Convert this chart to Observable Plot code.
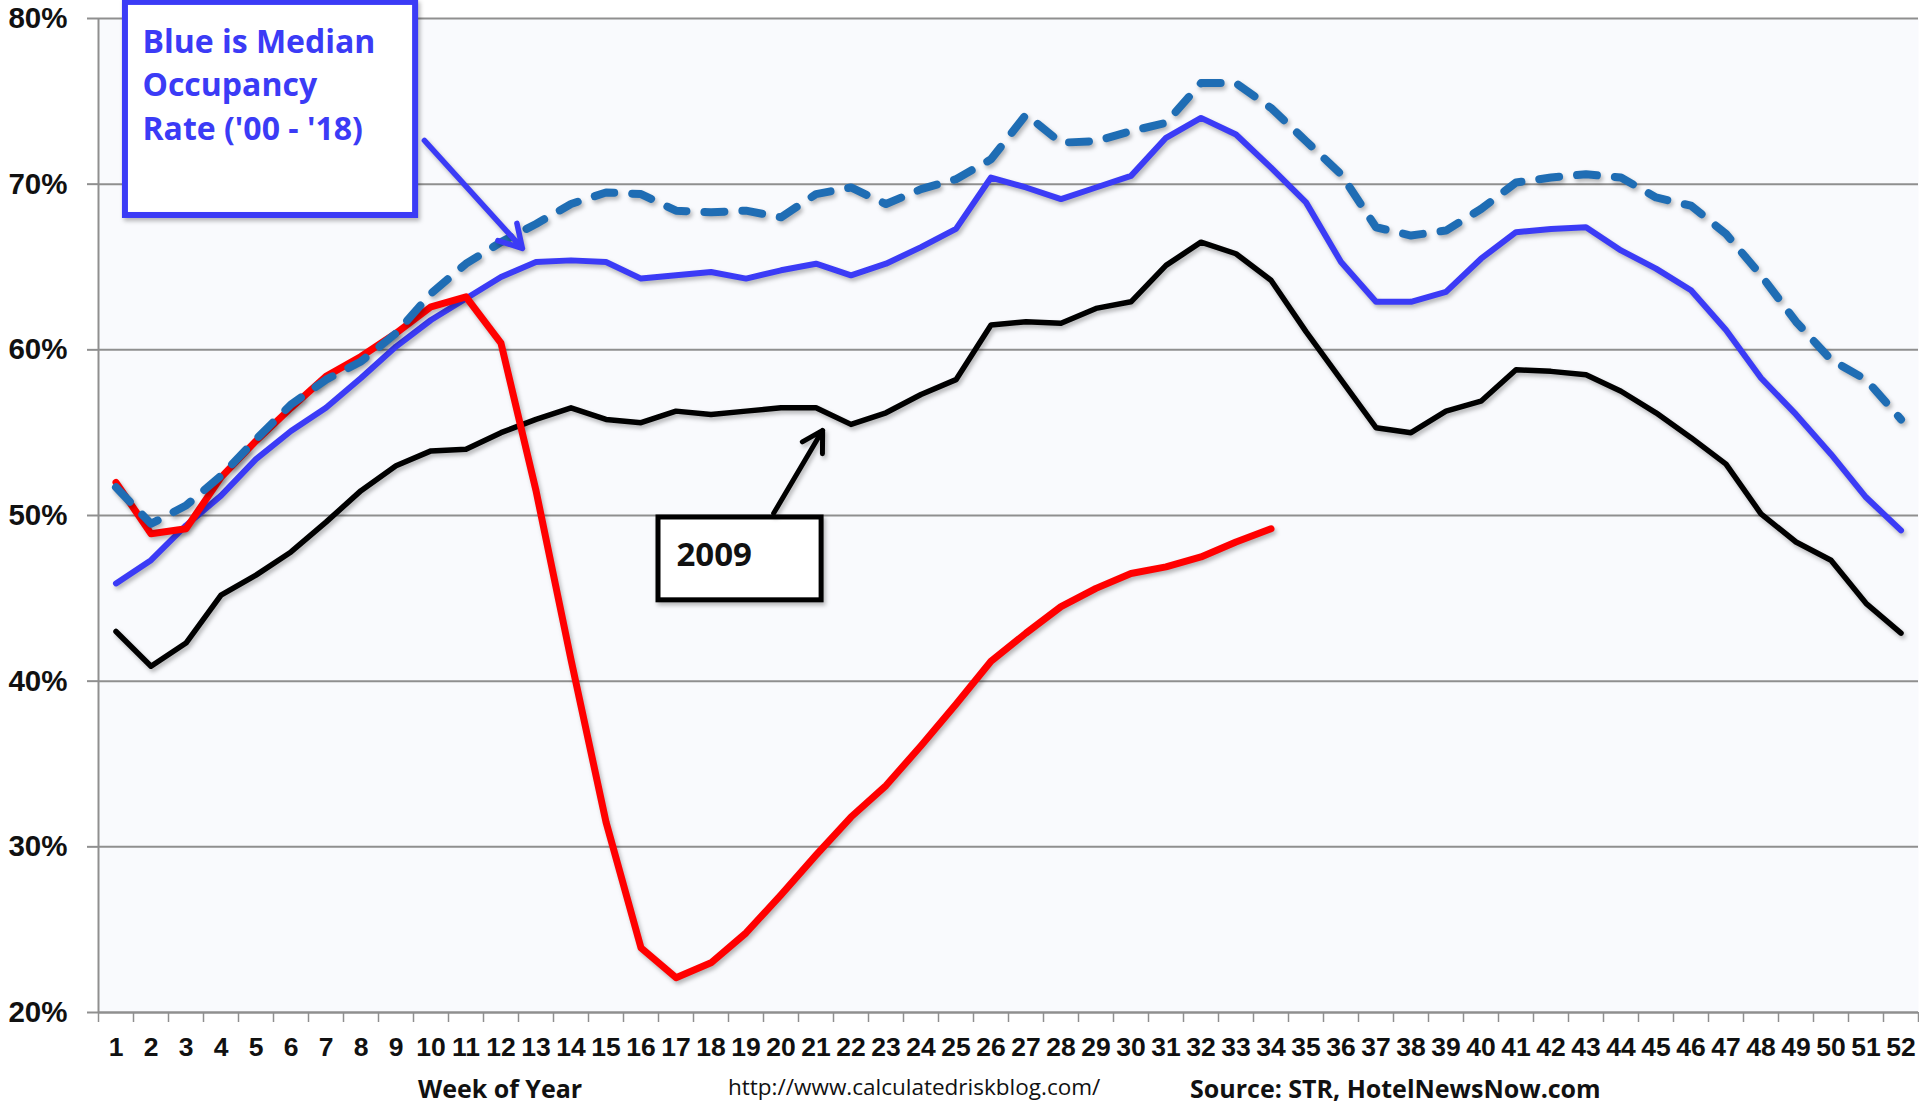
<!DOCTYPE html>
<html>
<head>
<meta charset="utf-8">
<script src="https://cdn.jsdelivr.net/npm/d3@7"></script>
<script src="https://cdn.jsdelivr.net/npm/@observablehq/plot@0.6"></script>
<style>
  html, body { margin: 0; padding: 0; background: #ffffff; }
  #wrap { width: 1919px; height: 1107px; position: relative; overflow: hidden; background: #fff; }
  #chart svg { display: block; overflow: visible; }
  #caption { position: relative; width: 1919px; height: 39px; color: #111; }
  #caption span { position: absolute; top: 8px; white-space: nowrap; line-height: 1; }
  .lab { font-family: "Open Sans", "Liberation Sans", sans-serif; font-weight: 700; font-size: 25px; }
  .url { font-family: "Open Sans", "Liberation Sans", sans-serif; font-weight: 400; font-size: 22.5px; }
</style>
</head>
<body>
<div id="wrap">
  <div id="chart"></div>
  <div id="caption">
    <span class="lab" id="xlab"></span>
    <span class="url" id="url"></span>
    <span class="lab" id="src"></span>
  </div>
</div>
<script>
// ---- data ----
const weeks = d3.range(1, 53);
const median0018 = [45.9,47.3,49.4,51.2,53.4,55.1,56.5,58.3,60.2,61.8, 63.1,64.4,65.3,65.4,65.3,64.3,64.5,64.7,64.3,64.8, 65.2,64.5,65.2,66.2,67.3,70.4,69.8,69.1,69.8,70.5, 72.8,74.0,73.0,71.0,68.9,65.3,62.9,62.9,63.5,65.5, 67.1,67.3,67.4,66.0,64.9,63.6,61.2,58.3,56.1,53.7, 51.1,49.1];
const dashed2019 = [51.7,49.5,50.6,52.4,54.6,56.7,58.2,59.3,61.0,63.4, 65.2,66.5,67.6,68.8,69.5,69.4,68.4,68.3,68.4,68.0, 69.4,69.8,68.8,69.7,70.3,71.5,74.2,72.5,72.6,73.2, 73.7,76.1,76.1,74.6,72.6,70.6,67.4,66.9,67.2,68.5, 70.1,70.4,70.6,70.4,69.2,68.7,67.0,64.5,61.7,59.4, 58.2,55.8];
const black2009 = [43.0,40.9,42.3,45.2,46.4,47.8,49.6,51.5,53.0,53.9, 54.0,55.0,55.8,56.5,55.8,55.6,56.3,56.1,56.3,56.5, 56.5,55.5,56.2,57.3,58.2,61.5,61.7,61.6,62.5,62.9, 65.1,66.5,65.8,64.2,61.1,58.2,55.3,55.0,56.3,56.9, 58.8,58.7,58.5,57.5,56.2,54.7,53.1,50.1,48.4,47.3, 44.7,42.9];
const red2020 = [52.0,48.9,49.2,52.3,54.5,56.5,58.4,59.6,61.0,62.6, 63.2,60.4,51.5,41.3,31.5,23.9,22.1,23.0,24.8,27.1, 29.5,31.8,33.7,36.1,38.6,41.2,42.9,44.5,45.6,46.5, 46.9,47.5,48.4,49.2];

const yTicks = [20, 30, 40, 50, 60, 70, 80];
const gridValues = [30, 40, 50, 60, 70, 80];
const weekBoundaries = d3.range(0.5, 53, 1);

// annotations (in data coordinates: week, percent)
const blueBox = [{x1: 1.27, x2: 9.56, y1: 80.97, y2: 68.11, label: "Blue is Median\nOccupancy\nRate ('00 - '18)"}];
const blueArrow = [{x1: 9.81, y1: 72.64, x2: 12.61, y2: 66.12}];
const box2009 = [{x1: 16.5, x2: 21.16, y1: 49.88, y2: 44.88, label: "2009", ty: 47.6}];
const arrow2009 = [{x1: 19.79, y1: 50.13, x2: 21.19, y2: 55.14}];

const xLabelText = "Week of Year";
const urlText = "http://www.calculatedriskblog.com/";
const sourceText = "Source: STR, HotelNewsNow.com";

// ---- tidy tables ----
const toRows = (arr) => arr.map((v, i) => ({week: weeks[i], value: v}));
const medianRows = toRows(median0018);
const dashedRows = toRows(dashed2019);
const blackRows = toRows(black2009);
const redRows = toRows(red2020);

const BLUE = "#3b3bf6";
const DASH = "#1f6db4";
const GRID = "#8f8f8f";
const H = 1068;

const chart = Plot.plot({
  width: 1919,
  height: H,
  marginLeft: 98,
  marginRight: 1,
  marginTop: 18,
  marginBottom: H - 1012,
  style: {background: "transparent", color: "#111", fontFamily: "'Open Sans', sans-serif"},
  x: {type: "linear", domain: [0.5, 52.5], label: null},
  y: {type: "linear", domain: [20, 80], label: null},
  marks: [
    Plot.frame({fill: "#f9fafd", stroke: null}),
    Plot.ruleY(gridValues, {stroke: GRID, strokeWidth: 2}),
    Plot.axisY(yTicks, {
      tickSize: 11, tickPadding: 20, stroke: GRID, strokeWidth: 2,
      tickFormat: d => d + "%",
      fontSize: 29.5, fontWeight: "bold", fontFamily: "'Liberation Sans', Arial, sans-serif", fill: "#111",
      label: null
    }),
    Plot.axisX(weekBoundaries, {
      tickSize: 10, stroke: GRID, strokeWidth: 1.5, tickFormat: () => "", label: null
    }),
    Plot.axisX(weeks, {
      tickSize: 0, tickPadding: 25, tickFormat: d => String(d),
      fontSize: 26.5, fontWeight: "bold", fontFamily: "'Liberation Sans Narrow', 'Arial Narrow', sans-serif",
      fill: "#111", label: null
    }),
    Plot.ruleX([0.5], {stroke: GRID, strokeWidth: 2}),
    Plot.ruleY([20], {stroke: GRID, strokeWidth: 2.5}),

    // series
    Plot.line(medianRows, {x: "week", y: "value", stroke: BLUE, strokeWidth: 6, strokeLinejoin: "round"}),
    Plot.line(blackRows, {x: "week", y: "value", stroke: "#000", strokeWidth: 5.5, strokeLinejoin: "round"}),
    Plot.line(redRows, {x: "week", y: "value", stroke: "#ff0000", strokeWidth: 7, strokeLinejoin: "round"}),
    Plot.line(dashedRows, {x: "week", y: "value", stroke: DASH, strokeWidth: 8, strokeDasharray: "20,18", strokeLinecap: "round", strokeLinejoin: "round"}),

    // annotations
    Plot.rect(blueBox, {x1: "x1", x2: "x2", y1: "y1", y2: "y2", fill: "#fff", stroke: BLUE, strokeWidth: 6}),
    Plot.text(blueBox, {x: "x1", y: "y1", text: "label", textAnchor: "start", lineAnchor: "top", dx: 17, dy: 19,
      lineHeight: 1.37, fontSize: 32, fontWeight: "bold", fontFamily: "'Open Sans', sans-serif", fill: BLUE}),
    Plot.arrow(blueArrow, {x1: "x1", y1: "y1", x2: "x2", y2: "y2", stroke: BLUE, strokeWidth: 5.5, headLength: 7}),

    Plot.rect(box2009, {x1: "x1", x2: "x2", y1: "y1", y2: "y2", fill: "#fff", stroke: "#000", strokeWidth: 5}),
    Plot.text(box2009, {x: "x1", y: "ty", text: "label", textAnchor: "start", dx: 18,
      fontSize: 33, fontWeight: "bold", fontFamily: "'Open Sans', sans-serif", fill: "#111"}),
    Plot.arrow(arrow2009, {x1: "x1", y1: "y1", x2: "x2", y2: "y2", stroke: "#000", strokeWidth: 5, headLength: 7})
  ]
});

// soft drop shadows like the original spreadsheet chart
d3.select(chart).selectAll('g[aria-label="line"], g[aria-label="rect"], g[aria-label="arrow"]')
  .style("filter", "drop-shadow(2px 3px 2px rgba(0,0,0,0.28))");

document.getElementById("chart").appendChild(chart);

// caption row below the svg
const xlab = document.getElementById("xlab");
xlab.textContent = xLabelText;
document.getElementById("url").textContent = urlText;
document.getElementById("src").textContent = sourceText;
xlab.style.left = "418px";
document.getElementById("url").style.left = "728px";
document.getElementById("src").style.left = "1190px";
</script>
</body>
</html>
